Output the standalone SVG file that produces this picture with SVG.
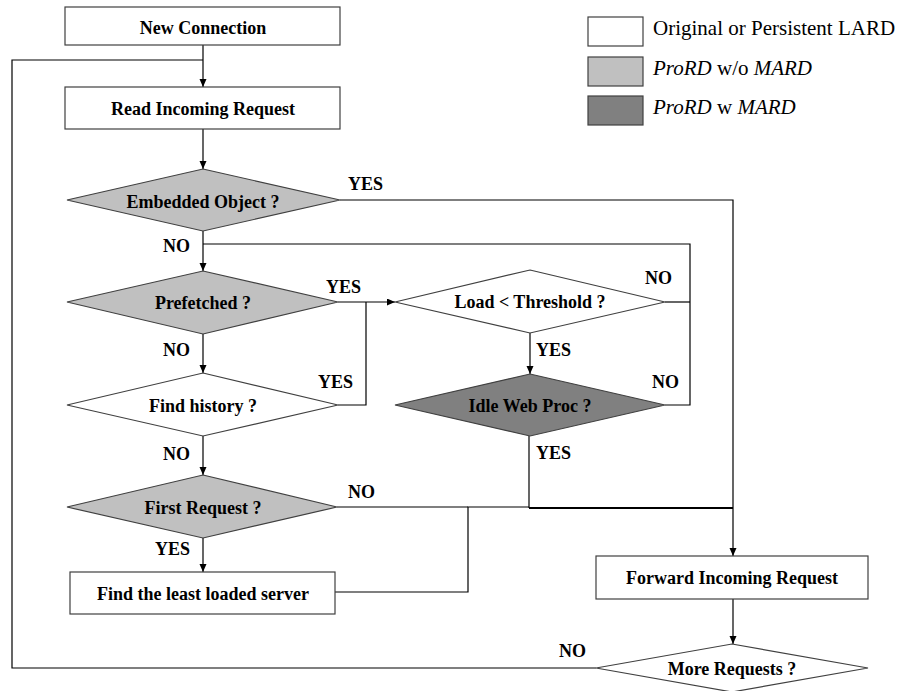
<svg xmlns="http://www.w3.org/2000/svg" width="898" height="691" viewBox="0 0 898 691">
  <style>
    .box { fill: #ffffff; stroke: #404040; stroke-width: 1.2; }
    .light { fill: #c0c0c0; stroke: #404040; stroke-width: 1.2; }
    .dark { fill: #808080; stroke: #404040; stroke-width: 1.2; }
    .wire { fill: none; stroke: #000000; stroke-width: 1.2; }
    .heavy { fill: none; stroke: #000000; stroke-width: 2.2; }
    .lbl { font-family: "Liberation Serif", "Times New Roman", serif; font-weight: bold; font-size: 18px; fill: #000000; }
    .ctr { text-anchor: middle; }
    .leg { font-family: "Liberation Serif", "Times New Roman", serif; font-size: 21px; fill: #000000; }
  </style>
  <defs>
    <marker id="arrow" markerUnits="userSpaceOnUse" markerWidth="9" markerHeight="8" refX="8" refY="3.5" orient="auto">
      <path d="M0,0 L8,3.5 L0,7 z" fill="#000000"/>
    </marker>
  </defs>

  <!-- connectors -->
  <g id="connectors">
    <path class="wire" d="M203,45 V87" marker-end="url(#arrow)"/>
    <path class="wire" d="M203,129 V169" marker-end="url(#arrow)"/>
    <path class="wire" d="M340,200 H733 V556" marker-end="url(#arrow)"/>
    <path class="wire" d="M203,231 V271" marker-end="url(#arrow)"/>
    <path class="wire" d="M203,244 H690 V405 H665"/>
    <path class="wire" d="M665,302 H690"/>
    <path class="wire" d="M338,302 H395" marker-end="url(#arrow)"/>
    <path class="wire" d="M338,405 H366 V302"/>
    <path class="wire" d="M203,334 V373" marker-end="url(#arrow)"/>
    <path class="wire" d="M530,333 V374" marker-end="url(#arrow)"/>
    <path class="wire" d="M203,436 V475" marker-end="url(#arrow)"/>
    <path class="wire" d="M203,538 V572" marker-end="url(#arrow)"/>
    <path class="wire" d="M337,507 H468"/>
    <path class="wire" d="M335,592 H468 V507 H529"/>
    <path class="wire" d="M529,436 V508"/>
    <path class="heavy" d="M529,508 H733"/>
    <path class="wire" d="M733,599 V644" marker-end="url(#arrow)"/>
    <path class="wire" d="M596,668 H12 V60 H203"/>
  </g>

  <!-- legend -->
  <g id="legend">
    <rect class="box" x="588" y="17" width="55" height="29"/>
    <rect class="light" x="588" y="57" width="55" height="29"/>
    <rect class="dark" x="588" y="96" width="55" height="29"/>
    <text class="leg" x="653" y="35">Original or Persistent LARD</text>
    <text class="leg" x="653" y="75"><tspan font-style="italic">ProRD</tspan> w/o <tspan font-style="italic">MARD</tspan></text>
    <text class="leg" x="653" y="114"><tspan font-style="italic">ProRD</tspan> w <tspan font-style="italic">MARD</tspan></text>
  </g>

  <g id="new-connection">
    <rect class="box" x="65" y="7" width="275" height="38"/>
    <text class="lbl ctr" x="203" y="34">New Connection</text>
  </g>

  <g id="read-request">
    <rect class="box" x="65" y="87" width="275" height="42"/>
    <text class="lbl ctr" x="203" y="115">Read Incoming Request</text>
  </g>

  <g id="embedded-object">
    <polygon class="light" points="203,169 340,200 203,231 67,200"/>
    <text class="lbl ctr" x="203" y="208">Embedded Object ?</text>
  </g>

  <g id="prefetched">
    <polygon class="light" points="203,271 338,302 203,334 67,302"/>
    <text class="lbl ctr" x="203" y="309">Prefetched ?</text>
  </g>

  <g id="find-history">
    <polygon class="box" points="203,373 338,405 203,436 67,405"/>
    <text class="lbl ctr" x="203" y="412">Find history ?</text>
  </g>

  <g id="first-request">
    <polygon class="light" points="203,475 337,507 203,538 67,507"/>
    <text class="lbl ctr" x="203" y="514">First Request ?</text>
  </g>

  <g id="least-loaded">
    <rect class="box" x="70" y="572" width="265" height="42"/>
    <text class="lbl ctr" x="203" y="600">Find the least loaded server</text>
  </g>

  <g id="load-threshold">
    <polygon class="box" points="530,270 665,302 530,333 395,302"/>
    <text class="lbl ctr" x="530" y="308">Load &lt; Threshold ?</text>
  </g>

  <g id="idle-web-proc">
    <polygon class="dark" points="530,374 665,405 530,436 395,405"/>
    <text class="lbl ctr" x="530" y="412">Idle Web Proc ?</text>
  </g>

  <g id="forward-request">
    <rect class="box" x="596" y="556" width="272" height="43"/>
    <text class="lbl ctr" x="732" y="584">Forward Incoming Request</text>
  </g>

  <g id="more-requests">
    <polygon class="box" points="732,644 868,668 732,692 596,668"/>
    <text class="lbl ctr" x="732" y="675">More Requests ?</text>
  </g>

  <!-- branch labels -->
  <g id="branch-labels">
    <text class="lbl" x="348" y="190">YES</text>
    <text class="lbl" x="163" y="252">NO</text>
    <text class="lbl" x="326" y="293">YES</text>
    <text class="lbl" x="163" y="356">NO</text>
    <text class="lbl" x="318" y="388">YES</text>
    <text class="lbl" x="163" y="460">NO</text>
    <text class="lbl" x="348" y="498">NO</text>
    <text class="lbl" x="155" y="555">YES</text>
    <text class="lbl" x="645" y="284">NO</text>
    <text class="lbl" x="536" y="356">YES</text>
    <text class="lbl" x="652" y="388">NO</text>
    <text class="lbl" x="536" y="459">YES</text>
    <text class="lbl" x="559" y="657">NO</text>
  </g>
</svg>
